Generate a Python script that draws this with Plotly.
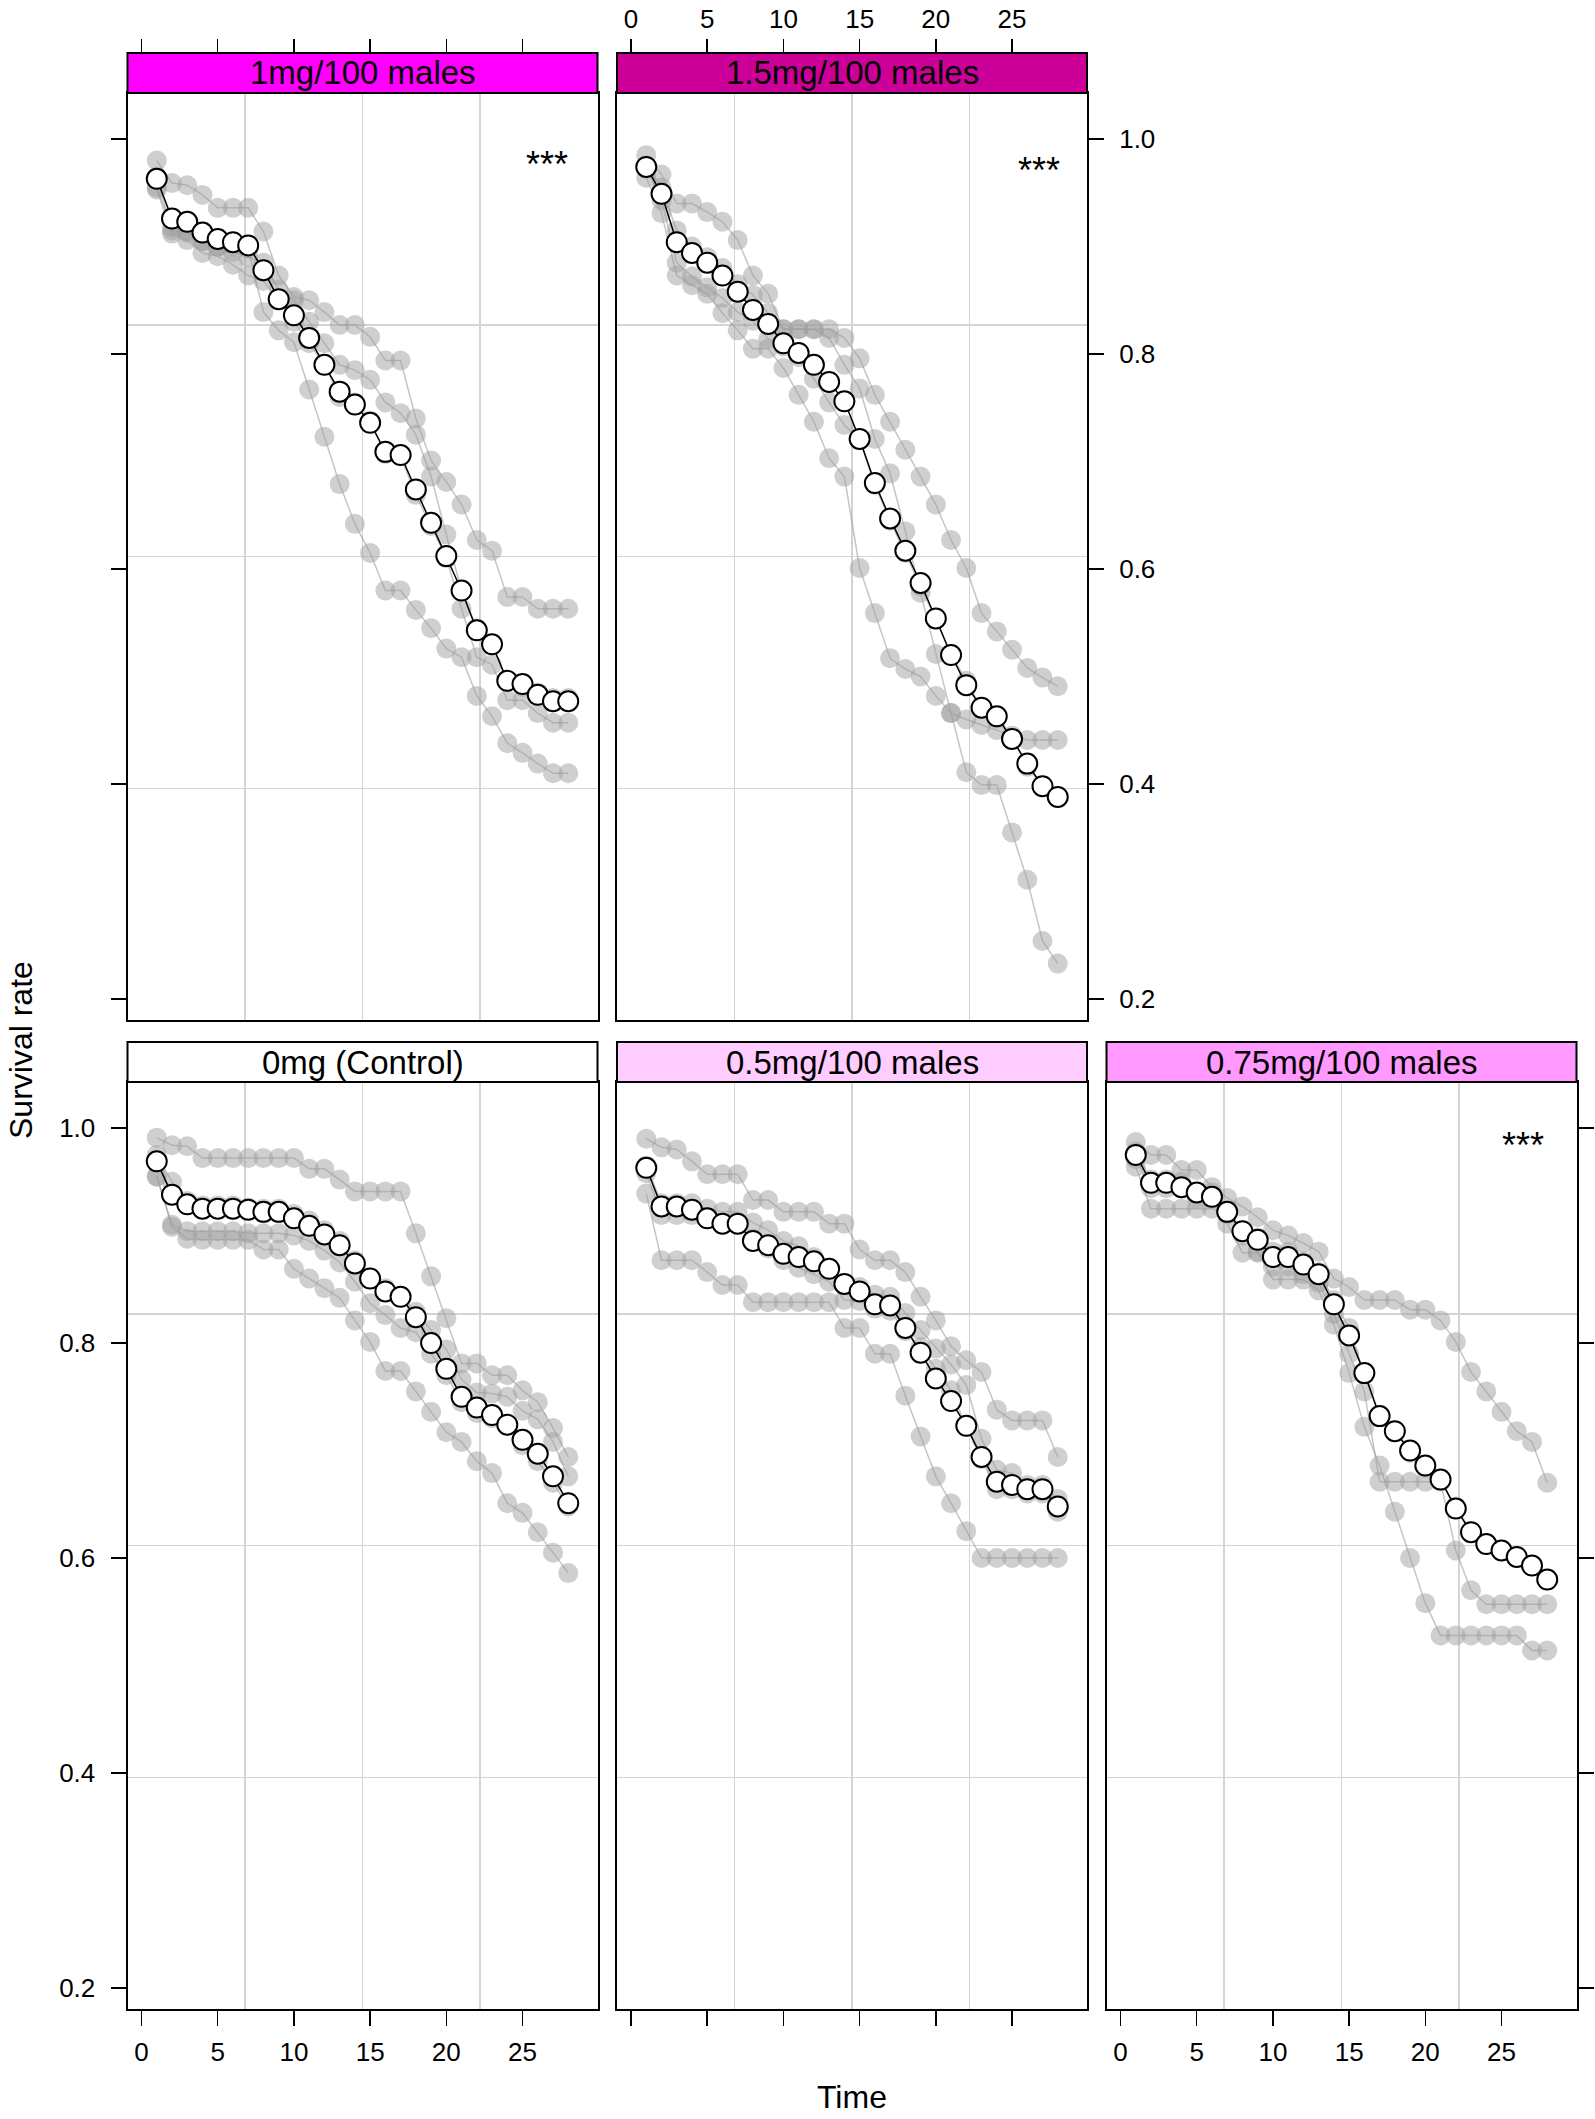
import plotly.graph_objects as go

# ---------------- data ----------------
time_days = list(range(1, 29))
x_tick_vals = [0, 5, 10, 15, 20, 25]
y_tick_vals = [0.2, 0.4, 0.6, 0.8, 1.0]
y_tick_text = ["0.2", "0.4", "0.6", "0.8", "1.0"]

mean_1mg = [0.963,0.926,0.923,0.913,0.907,0.904,0.901,0.878,0.851,0.836,0.815,0.790,0.765,0.753,0.736,0.709,0.706,0.674,0.643,0.612,0.580,0.543,0.530,0.496,0.493,0.483,0.477,0.477]
rep_1mg_a = [0.980,0.959,0.957,0.948,0.936,0.936,0.936,0.914,0.873,0.853,0.850,0.839,0.827,0.827,0.816,0.794,0.794,0.740,0.701,0.681,0.660,0.627,0.617,0.574,0.574,0.563,0.563,0.563]
rep_1mg_b = [0.955,0.918,0.914,0.905,0.900,0.895,0.890,0.885,0.860,0.850,0.830,0.810,0.790,0.785,0.776,0.755,0.745,0.725,0.686,0.632,0.580,0.545,0.530,0.495,0.490,0.485,0.480,0.480]
rep_1mg_c = [0.953,0.912,0.906,0.894,0.891,0.883,0.873,0.868,0.850,0.830,0.810,0.790,0.760,0.755,0.738,0.707,0.705,0.669,0.640,0.610,0.563,0.518,0.511,0.478,0.478,0.466,0.457,0.457]
rep_1mg_d = [0.965,0.915,0.913,0.905,0.900,0.900,0.898,0.839,0.822,0.811,0.767,0.723,0.679,0.642,0.615,0.580,0.580,0.562,0.545,0.526,0.518,0.482,0.463,0.438,0.429,0.419,0.410,0.410]

mean_15mg = [0.974,0.949,0.904,0.894,0.885,0.873,0.858,0.841,0.828,0.810,0.801,0.790,0.774,0.756,0.721,0.680,0.647,0.617,0.587,0.554,0.520,0.492,0.471,0.463,0.442,0.419,0.398,0.388]
rep_15mg_a = [0.985,0.967,0.940,0.940,0.932,0.923,0.906,0.873,0.856,0.823,0.823,0.823,0.823,0.815,0.796,0.762,0.737,0.711,0.686,0.660,0.627,0.601,0.559,0.542,0.525,0.508,0.499,0.491]
rep_15mg_b = [0.975,0.955,0.915,0.900,0.890,0.880,0.865,0.855,0.838,0.823,0.823,0.823,0.815,0.790,0.768,0.721,0.689,0.635,0.578,0.521,0.466,0.460,0.455,0.450,0.445,0.441,0.441,0.441]
rep_15mg_c = [0.973,0.943,0.885,0.872,0.862,0.852,0.839,0.831,0.814,0.807,0.797,0.777,0.755,0.734,0.720,0.678,0.645,0.615,0.584,0.553,0.521,0.496,0.471,0.461,0.443,0.416,0.398,0.387]
rep_15mg_d = [0.964,0.931,0.873,0.864,0.856,0.838,0.822,0.805,0.805,0.787,0.762,0.737,0.703,0.686,0.601,0.559,0.517,0.507,0.500,0.482,0.466,0.411,0.399,0.399,0.355,0.311,0.254,0.233]

mean_0mg = [0.969,0.938,0.929,0.925,0.925,0.925,0.924,0.922,0.922,0.916,0.909,0.901,0.891,0.874,0.860,0.848,0.843,0.824,0.800,0.776,0.750,0.740,0.733,0.724,0.710,0.697,0.676,0.651]
rep_0mg_a = [0.991,0.984,0.983,0.972,0.972,0.972,0.972,0.972,0.972,0.972,0.962,0.962,0.952,0.941,0.941,0.941,0.941,0.902,0.862,0.823,0.781,0.781,0.770,0.770,0.756,0.745,0.721,0.694]
rep_0mg_b = [0.975,0.950,0.932,0.928,0.928,0.928,0.926,0.925,0.925,0.920,0.914,0.905,0.895,0.877,0.861,0.851,0.843,0.829,0.812,0.794,0.766,0.754,0.753,0.750,0.737,0.729,0.708,0.676]
rep_0mg_c = [0.955,0.910,0.904,0.904,0.904,0.904,0.902,0.902,0.902,0.900,0.895,0.886,0.875,0.857,0.837,0.826,0.814,0.810,0.790,0.770,0.745,0.735,0.730,0.725,0.705,0.690,0.670,0.648]
rep_0mg_d = [0.955,0.908,0.897,0.896,0.896,0.896,0.896,0.887,0.887,0.869,0.860,0.851,0.842,0.821,0.801,0.774,0.774,0.755,0.736,0.717,0.708,0.690,0.679,0.651,0.642,0.624,0.605,0.586]

mean_05mg = [0.963,0.927,0.927,0.924,0.916,0.911,0.911,0.895,0.891,0.883,0.880,0.876,0.869,0.855,0.848,0.836,0.835,0.814,0.791,0.767,0.746,0.723,0.694,0.671,0.668,0.664,0.664,0.648]
rep_05mg_a = [0.990,0.982,0.980,0.969,0.957,0.957,0.957,0.933,0.933,0.922,0.922,0.922,0.911,0.911,0.887,0.877,0.877,0.866,0.843,0.821,0.797,0.784,0.773,0.738,0.728,0.728,0.728,0.694]
rep_05mg_b = [0.965,0.930,0.930,0.930,0.925,0.922,0.922,0.912,0.905,0.895,0.890,0.880,0.870,0.855,0.852,0.845,0.843,0.828,0.812,0.795,0.780,0.761,0.711,0.682,0.679,0.668,0.668,0.655]
rep_05mg_c = [0.958,0.919,0.919,0.919,0.916,0.911,0.911,0.897,0.888,0.877,0.870,0.864,0.857,0.840,0.839,0.832,0.830,0.811,0.796,0.776,0.756,0.722,0.692,0.664,0.664,0.660,0.660,0.643]
rep_05mg_d = [0.939,0.877,0.877,0.877,0.866,0.854,0.854,0.838,0.838,0.838,0.838,0.838,0.838,0.814,0.814,0.790,0.790,0.751,0.713,0.676,0.651,0.625,0.600,0.600,0.600,0.600,0.600,0.600]

mean_075mg = [0.975,0.949,0.949,0.945,0.940,0.936,0.922,0.904,0.896,0.880,0.880,0.873,0.864,0.836,0.807,0.772,0.732,0.718,0.700,0.686,0.673,0.646,0.624,0.613,0.607,0.601,0.593,0.580]
rep_075mg_a = [0.987,0.975,0.975,0.961,0.961,0.945,0.935,0.927,0.917,0.905,0.900,0.893,0.885,0.860,0.852,0.840,0.840,0.840,0.831,0.831,0.821,0.801,0.773,0.755,0.736,0.718,0.708,0.670]
rep_075mg_b = [0.978,0.952,0.952,0.950,0.940,0.940,0.922,0.900,0.898,0.885,0.885,0.876,0.866,0.840,0.814,0.771,0.731,0.718,0.698,0.684,0.672,0.648,0.625,0.612,0.607,0.601,0.593,0.579]
rep_075mg_c = [0.971,0.944,0.944,0.944,0.934,0.934,0.911,0.884,0.884,0.871,0.871,0.864,0.856,0.827,0.790,0.755,0.671,0.671,0.671,0.671,0.671,0.607,0.570,0.557,0.557,0.557,0.557,0.557]
rep_075mg_d = [0.964,0.925,0.925,0.925,0.925,0.925,0.920,0.905,0.885,0.859,0.859,0.859,0.849,0.817,0.772,0.722,0.686,0.643,0.600,0.558,0.528,0.528,0.528,0.528,0.528,0.528,0.514,0.514]

# ---------------- panel definitions ----------------
panels = [
    dict(name="1mg/100 males", color="#FF00FF", row=0, col=0, mean=mean_1mg,
         reps=[rep_1mg_a, rep_1mg_b, rep_1mg_c, rep_1mg_d], star=(26.6, 0.976),
         xside="top", xlab=False, yside="left", ylab=False),
    dict(name="1.5mg/100 males", color="#CC0099", row=0, col=1, mean=mean_15mg,
         reps=[rep_15mg_a, rep_15mg_b, rep_15mg_c, rep_15mg_d], star=(26.8, 0.9705),
         xside="top", xlab=True, yside="right", ylab=True),
    dict(name="0mg (Control)", color="#FFFFFF", row=1, col=0, mean=mean_0mg,
         reps=[rep_0mg_a, rep_0mg_b, rep_0mg_c, rep_0mg_d], star=None,
         xside="bottom", xlab=True, yside="left", ylab=True),
    dict(name="0.5mg/100 males", color="#FFCCFF", row=1, col=1, mean=mean_05mg,
         reps=[rep_05mg_a, rep_05mg_b, rep_05mg_c, rep_05mg_d], star=None,
         xside="bottom", xlab=False, yside=None, ylab=False),
    dict(name="0.75mg/100 males", color="#FF99FF", row=1, col=2, mean=mean_075mg,
         reps=[rep_075mg_a, rep_075mg_b, rep_075mg_c, rep_075mg_d], star=(26.4, 0.9837),
         xside="bottom", xlab=True, yside="right", ylab=False),
]

# ---------------- geometry / style ----------------
W, H = 1595, 2119
col_left = [127.5, 617.0, 1106.5]   # pixel positions
panel_w = 470.0
row_top = [93.0, 1082.0]
panel_h = 927.0
strip_h = 40.0
x_range = [-0.92, 29.92]
y_range = [0.1805, 1.0428]
FONT = "Liberation Sans, Arial, Helvetica, sans-serif"
GRID = "#d4d4d4"
REP_FILL = "rgba(160,160,160,0.5)"
REP_LINE = "rgba(150,150,150,0.55)"


def px_x(p):
    return p / W


def px_y(p):
    return 1 - p / H


x_grid = [x_range[0] + (x_range[1] - x_range[0]) * q / 4 for q in (1, 2, 3)]
y_grid = [y_range[0] + (y_range[1] - y_range[0]) * q / 4 for q in (1, 2, 3)]

fig = go.Figure()
layout = dict(width=W, height=H,
              margin=dict(l=0, r=0, t=0, b=0, pad=0, autoexpand=False),
              paper_bgcolor="white", plot_bgcolor="white", showlegend=False,
              font=dict(family=FONT, size=26, color="black"))
shapes, annotations = [], []


def ax_name(prefix, n):
    return prefix if n == 1 else f"{prefix}{n}"


for k, p in enumerate(panels, start=1):
    x0 = col_left[p["col"]]
    y0 = row_top[p["row"]]
    dx = [px_x(x0), px_x(x0 + panel_w)]
    dy = [px_y(y0 + panel_h), px_y(y0)]
    xa, ya = ax_name("x", k), ax_name("y", k)

    layout[ax_name("xaxis", k)] = dict(
        domain=dx, range=x_range, anchor=ya, tickvals=x_grid, ticks="",
        showticklabels=False, showgrid=True, gridcolor=GRID, gridwidth=1.5,
        zeroline=False, showline=True, linecolor="black", linewidth=2, mirror=True)
    layout[ax_name("yaxis", k)] = dict(
        domain=dy, range=y_range, anchor=xa, tickvals=y_grid, ticks="",
        showticklabels=False, showgrid=True, gridcolor=GRID, gridwidth=1.5,
        zeroline=False, showline=True, linecolor="black", linewidth=2, mirror=True)

    # tick-bearing x axis
    xt = k + 5
    xt_cfg = dict(overlaying=xa, range=x_range, tickvals=x_tick_vals, ticks="outside",
                  ticklen=16, tickwidth=1.5, tickcolor="black", showgrid=False,
                  zeroline=False, showline=False, showticklabels=p["xlab"],
                  tickfont=dict(family=FONT, size=26, color="black"))
    if p["xside"] == "top":
        xt_cfg.update(side="top", anchor="free", position=px_y(y0 - strip_h),
                      ticklabelstandoff=1, ticklen=14)
    else:
        xt_cfg.update(side="bottom", anchor=ya, ticklabelstandoff=4)
    layout[f"xaxis{xt}"] = xt_cfg
    fig.add_trace(go.Scatter(x=[None], y=[None], xaxis=f"x{xt}", yaxis=ya,
                             showlegend=False, hoverinfo="skip"))

    # tick-bearing y axis
    if p["yside"]:
        yt = k + 10
        layout[f"yaxis{yt}"] = dict(
            overlaying=ya, range=y_range, side=p["yside"], anchor=xa,
            tickvals=y_tick_vals, ticktext=y_tick_text, ticks="outside",
            ticklen=16, tickwidth=1.5, tickcolor="black", showgrid=False,
            zeroline=False, showline=False, showticklabels=p["ylab"],
            tickfont=dict(family=FONT, size=26, color="black"),
            ticklabelstandoff=10)
        fig.add_trace(go.Scatter(x=[None], y=[None], xaxis=xa, yaxis=f"y{yt}",
                                 showlegend=False, hoverinfo="skip"))

    # replicate series (grey)
    for rep in p["reps"]:
        fig.add_trace(go.Scatter(
            x=time_days, y=rep, xaxis=xa, yaxis=ya, mode="lines+markers",
            line=dict(color=REP_LINE, width=1.5),
            marker=dict(size=20, color=REP_FILL, line=dict(width=0)),
            showlegend=False, hoverinfo="skip"))
    # mean series
    fig.add_trace(go.Scatter(
        x=time_days, y=p["mean"], xaxis=xa, yaxis=ya, mode="lines+markers",
        line=dict(color="black", width=1.5),
        marker=dict(size=20, color="white", line=dict(color="black", width=2)),
        showlegend=False, hoverinfo="skip"))

    # strip
    sy0 = px_y(y0)
    sy1 = px_y(y0 - strip_h)
    shapes.append(dict(type="rect", xref="paper", yref="paper", x0=dx[0], x1=dx[1],
                       y0=sy0, y1=sy1, fillcolor=p["color"],
                       line=dict(color="black", width=2), layer="above"))
    annotations.append(dict(xref="paper", yref="paper", x=(dx[0] + dx[1]) / 2,
                            y=(sy0 + sy1) / 2, text=p["name"], showarrow=False,
                            xanchor="center", yanchor="middle",
                            font=dict(family=FONT, size=33, color="black")))
    if p["star"]:
        annotations.append(dict(xref=xa, yref=ya, x=p["star"][0], y=p["star"][1],
                                text="***", showarrow=False, xanchor="center",
                                yanchor="middle",
                                font=dict(family=FONT, size=36, color="black")))

annotations.append(dict(xref="paper", yref="paper", x=px_x(852), y=px_y(2097),
                        text="Time", showarrow=False, xanchor="center", yanchor="middle",
                        font=dict(family=FONT, size=32, color="black")))
annotations.append(dict(xref="paper", yref="paper", x=px_x(21), y=px_y(1050),
                        text="Survival rate", showarrow=False, textangle=-90,
                        xanchor="center", yanchor="middle",
                        font=dict(family=FONT, size=32, color="black")))

layout["shapes"] = shapes
layout["annotations"] = annotations
fig.update_layout(**layout)
fig.write_html("out.html", config={"displayModeBar": False, "staticPlot": True},
               post_script="document.body.style.margin='0px';document.body.style.overflow='hidden';")
